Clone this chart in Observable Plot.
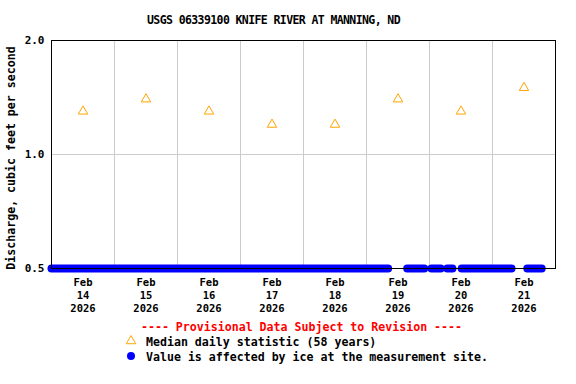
<!DOCTYPE html>
<html>
<head>
<meta charset="utf-8">
<script src="https://cdn.jsdelivr.net/npm/d3@7"></script>
<script src="https://cdn.jsdelivr.net/npm/@observablehq/plot@0.6"></script>
<style>
  html, body { margin: 0; padding: 0; background: white; }
  #wrap { position: relative; width: 576px; height: 384px; background: white; overflow: hidden;
          font-family: "DejaVu Sans Mono", monospace; font-weight: bold; color: black; }
  .abs { position: absolute; white-space: nowrap; }
</style>
</head>
<body>
<div id="wrap">
  <div id="chart" class="abs" style="left:0;top:0"></div>
  <div id="title" class="abs" style="left:0;top:13px;width:547px;text-align:center;font-size:11.5px;letter-spacing:-0.6px;line-height:14px"></div>
  <div id="ylabel" class="abs" style="left:11px;top:158px;transform:translate(-50%,-50%) rotate(-90deg);font-size:11.6px;line-height:12px"></div>
  <div id="prov" class="abs" style="left:0;top:320px;width:603px;text-align:center;font-size:11.6px;line-height:14px;color:#ff0000"></div>
  <svg class="abs" style="left:0;top:0" width="576" height="384" id="legsym"></svg>
  <div id="leg1" class="abs" style="left:146px;top:335px;font-size:11.6px;line-height:14px"></div>
  <div id="leg2" class="abs" style="left:146px;top:350px;font-size:11.6px;line-height:14px"></div>
</div>
<script>
// ---- data ----
const titleText = "USGS 06339100 KNIFE RIVER AT MANNING, ND";
const yLabelText = "Discharge, cubic feet per second";
const provText = "---- Provisional Data Subject to Revision ----";
const legendMedian = "Median daily statistic (58 years)";
const legendIce = "Value is affected by ice at the measurement site.";

const days = ["2026-02-14","2026-02-15","2026-02-16","2026-02-17","2026-02-18","2026-02-19","2026-02-20","2026-02-21"];
const medianValues = [1.3, 1.4, 1.3, 1.2, 1.2, 1.4, 1.3, 1.5];

// ice-affected 15-minute record, contiguous runs (all at 0.5 ft3/s)
const iceStart = ["2026-02-14T00:00","2026-02-19T15:30","2026-02-20T00:45","2026-02-20T06:45","2026-02-20T12:15","2026-02-21T13:15"];
const iceEnd   = ["2026-02-19T08:15","2026-02-19T22:00","2026-02-20T04:15","2026-02-20T08:45","2026-02-21T07:15","2026-02-21T18:45"];
const iceValue = [0.5, 0.5, 0.5, 0.5, 0.5, 0.5];

const yTicks = [0.5, 1.0, 2.0];
const yGrid = [1.0];
const xDomain = ["2026-02-14T00:00", "2026-02-22T00:00"];
const monthLabel = "Feb";

// ---- build tables ----
const utc = s => new Date(s + (s.length === 10 ? "T00:00" : "") + "Z");
const noon = s => new Date(utc(s).getTime() + 12 * 3600e3);
const medians = days.map((d, i) => ({date: noon(d), value: medianValues[i]}));
const ice = iceStart.map((s, i) => ({start: utc(s), end: utc(iceEnd[i]), value: iceValue[i]}));
const gridDays = days.slice(1).map(utc);
const tickDates = days.map(noon);

const chart = Plot.plot({
  width: 576,
  height: 330,
  marginTop: 40,
  marginBottom: 62,
  marginLeft: 51,
  marginRight: 21,
  style: {fontFamily: "DejaVu Sans Mono", fontWeight: "bold", fontSize: "11px", background: "transparent", overflow: "visible", color: "black"},
  x: {type: "utc", domain: xDomain.map(utc)},
  y: {type: "log", domain: [yTicks[0], yTicks[yTicks.length - 1]]},
  marks: [
    Plot.ruleX(gridDays, {stroke: "#cccccc", strokeWidth: 1}),
    Plot.ruleY(yGrid, {stroke: "#cccccc", strokeWidth: 1}),
    Plot.link(ice, {x1: "start", x2: "end", y1: "value", y2: "value", stroke: "#0000ff", strokeWidth: 8, strokeLinecap: "round"}),
    Plot.dot(medians, {x: "date", y: "value", symbol: "triangle", r: 3.5, stroke: "#ffa500", strokeWidth: 1, fill: "none"}),
    Plot.frame({stroke: "black", strokeWidth: 1}),
    Plot.axisX(tickDates, {tickSize: 0, tickPadding: 8.5, fontSize: 10.5, lineHeight: 1.24,
      tickFormat: d => `${monthLabel}\n${d.getUTCDate()}\n${d.getUTCFullYear()}`, label: null}),
    Plot.axisY(yTicks, {tickSize: 0, tickPadding: 7, fontSize: 11, tickFormat: d => d.toFixed(1), label: null})
  ]
});
document.getElementById("chart").appendChild(chart);

document.getElementById("title").textContent = titleText;
document.getElementById("ylabel").textContent = yLabelText;
document.getElementById("prov").textContent = provText;
document.getElementById("leg1").textContent = legendMedian;
document.getElementById("leg2").textContent = legendIce;

// legend symbols
const sym = d3.select("#legsym");
sym.append("path").attr("d", d3.symbol(d3.symbolTriangle, Math.PI * 3.5 * 3.5)())
  .attr("transform", "translate(131,341)").attr("fill", "none").attr("stroke", "#ffa500");
sym.append("circle").attr("cx", 131).attr("cy", 356).attr("r", 4).attr("fill", "#0000ff");
</script>
</body>
</html>
